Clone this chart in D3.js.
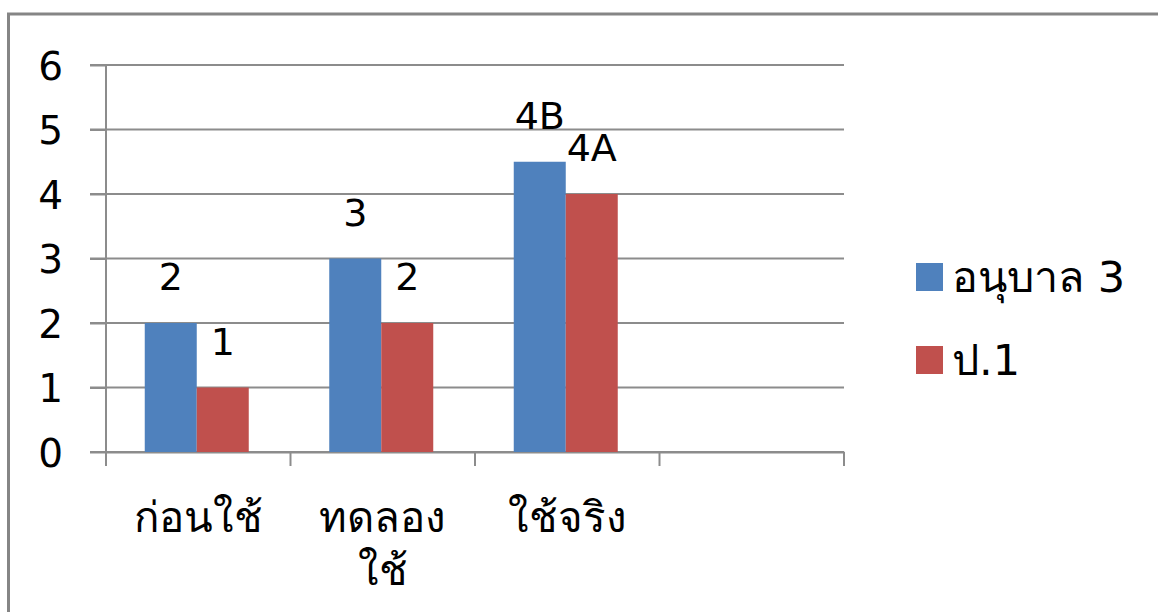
<!DOCTYPE html>
<html><head><meta charset="utf-8">
<script src="https://cdn.jsdelivr.net/npm/d3@7"></script>
<style>
html,body{margin:0;padding:0;background:#fff;overflow:hidden}
text{font-family:"DejaVu Sans",Tahoma,sans-serif;fill:#000}
</style></head>
<body>
<svg id="chart" width="1158" height="612"></svg>
<script>
const categories = ["ก่อนใช้", "ทดลองใช้", "ใช้จริง", ""];
const categoryLines = [["ก่อนใช้"], ["ทดลอง", "ใช้"], ["ใช้จริง"], []];
const seriesNames = ["อนุบาล 3", "ป.1"];
const seriesColors = ["#4F81BD", "#C0504D"];
const kindergarten3 = [2, 3, 4.5, null];
const grade1 = [1, 2, 4, null];
const kindergarten3Labels = ["2", "3", "4B", ""];
const grade1Labels = ["1", "2", "4A", ""];
const yTicks = [0, 1, 2, 3, 4, 5, 6];

const svg = d3.select("#chart");
const grid = "#8c8c8c";

// outer frame
svg.append("rect").attr("x", 8.5).attr("y", 14).attr("width", 1200).attr("height", 700)
  .attr("fill", "none").attr("stroke", "#858585").attr("stroke-width", 3);

const x = d3.scaleBand().domain(categories.map((c, i) => i)).range([106, 844]).padding(0);
const y = d3.scaleLinear().domain([0, 6]).range([452, 65]);
const barW = 52;
const sub = d3.scaleBand().domain([0, 1]).range([0, barW * 2]);

// gridlines
svg.append("g").selectAll("line").data(yTicks).join("line")
  .attr("x1", 90).attr("x2", 844).attr("y1", d => y(d)).attr("y2", d => y(d))
  .attr("stroke", grid).attr("stroke-width", 2);

// y axis
const yAxis = svg.append("g").attr("transform", "translate(106,0)")
  .call(d3.axisLeft(y).tickValues(yTicks).tickSize(16).tickPadding(27).tickFormat(d3.format("d")));
yAxis.select(".domain").attr("stroke", grid).attr("stroke-width", 2).attr("d", "M0,65V466");
yAxis.selectAll(".tick line").attr("stroke", grid).attr("stroke-width", 2);
yAxis.selectAll(".tick text").style("font-size", "39px").attr("dy", "0.36em")
  .style("font-family", "'DejaVu Sans',sans-serif").attr("fill", "#000");

// x axis
const xAxis = svg.append("g").attr("transform", "translate(0,452)")
  .call(d3.axisBottom(x).tickSize(0).tickFormat(""));
xAxis.select(".domain").attr("stroke", grid).attr("stroke-width", 2);
const xt = categories.map((c, i) => x(i)).concat([x.range()[1]]);
svg.append("g").selectAll("line").data(xt).join("line")
  .attr("x1", d => d).attr("x2", d => d).attr("y1", 452).attr("y2", 466)
  .attr("stroke", grid).attr("stroke-width", 2);

// bars
const series = [kindergarten3, grade1];
const labels = [kindergarten3Labels, grade1Labels];
series.forEach((vals, s) => {
  const g = svg.append("g");
  vals.forEach((v, i) => {
    if (v == null) return;
    const bx = x(i) + (x.bandwidth() - barW * 2) / 2 - 1.5 + sub(s);
    g.append("rect").attr("x", bx).attr("width", barW)
      .attr("y", y(v)).attr("height", y(0) - y(v)).attr("fill", seriesColors[s]);
    g.append("text").attr("x", bx + barW / 2).attr("y", y(v) - 33)
      .attr("text-anchor", "middle").style("font-size", "38px").text(labels[s][i]);
  });
});

// category labels
categoryLines.forEach((lines, i) => {
  lines.forEach((t, j) => {
    svg.append("text").attr("x", x(i) + x.bandwidth() / 2).attr("y", 532 + j * 53)
      .attr("text-anchor", "middle").style("font-size", "42px").text(t);
  });
});

// legend
const legend = svg.append("g");
seriesNames.forEach((n, i) => {
  const cy = 277 + i * 83;
  legend.append("rect").attr("x", 916).attr("y", cy - 14).attr("width", 27).attr("height", 28)
    .attr("fill", seriesColors[i]);
  legend.append("text").attr("x", 952).attr("y", cy).attr("dy", "0.36em")
    .style("font-size", "43px").text(n);
});
</script>
</body></html>
